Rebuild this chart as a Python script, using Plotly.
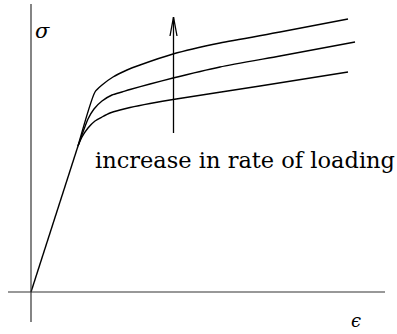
import plotly.graph_objects as go

# Stress-strain curves (arbitrary units): shared elastic segment, then three
# plastic branches for increasing rates of loading.
elastic_strain = [0.0, 4.7]
elastic_stress = [0.0, 14.6]

low_rate_strain = [4.7, 5.1, 5.7, 6.4, 7.1, 7.9, 8.9, 9.9, 11.9, 14.2, 22.9, 31.7]
low_rate_stress = [14.6, 15.5, 16.4, 17.1, 17.5, 17.9, 18.2, 18.45, 18.85, 19.25, 20.6, 22.0]

mid_rate_strain = [4.7, 5.2, 5.7, 6.3, 7.1, 8.1, 9.1, 9.9, 11.9, 14.2, 18.9, 24.9, 32.4]
mid_rate_stress = [14.6, 16.0, 17.3, 18.3, 19.1, 19.7, 20.0, 20.25, 20.8, 21.4, 22.5, 23.6, 25.0]

high_rate_strain = [4.7, 6.4, 7.1, 8.2, 9.6, 10.9, 14.2, 18.9, 24.9, 31.7]
high_rate_stress = [14.6, 20.0, 20.7, 21.5, 22.2, 22.7, 23.8, 24.9, 26.0, 27.3]

# Extent of the drawn coordinate axes
strain_axis_extent = [-2.3, 35.4]
stress_axis_extent = [-3.0, 28.8]

# Rate arrow: x position, tail and tip heights
arrow_x = 14.25
arrow_tail, arrow_tip = 15.9, 27.5

LINE = dict(color="black", width=1.4)

fig = go.Figure()
fig.add_trace(go.Scatter(x=elastic_strain, y=elastic_stress, mode="lines", line=LINE))
for xs, ys in [(low_rate_strain, low_rate_stress),
               (mid_rate_strain, mid_rate_stress),
               (high_rate_strain, high_rate_stress)]:
    fig.add_trace(go.Scatter(x=xs, y=ys, mode="lines",
                             line=dict(LINE, shape="spline", smoothing=0.6)))

# Coordinate axes drawn through the origin
AXIS = dict(color="#333333", width=1.2)
fig.add_shape(type="line", x0=strain_axis_extent[0], x1=strain_axis_extent[1],
              y0=0, y1=0, line=AXIS)
fig.add_shape(type="line", x0=0, x1=0,
              y0=stress_axis_extent[0], y1=stress_axis_extent[1], line=AXIS)

# Arrow indicating increasing loading rate (shaft plus open head)
ARROW = dict(color="black", width=1.3)
fig.add_shape(type="line", x0=arrow_x, x1=arrow_x, y0=arrow_tail, y1=arrow_tip, line=ARROW)
fig.add_shape(type="path", line=ARROW,
              path=f"M {arrow_x - 0.35},{arrow_tip - 1.9} L {arrow_x},{arrow_tip} "
                   f"L {arrow_x + 0.35},{arrow_tip - 1.9}")

SERIF = "DejaVu Serif"
fig.add_annotation(x=6.2, y=13.2, xref="x", yref="y", text="increase in rate of loading",
                   showarrow=False, xanchor="left", yanchor="middle",
                   font=dict(family=SERIF, size=22.5, color="black"))
fig.add_annotation(x=1.1, y=26.1, xref="x", yref="y", text="<i>σ</i>",
                   showarrow=False, font=dict(family=SERIF, size=21, color="black"))
fig.add_annotation(x=32.5, y=-4.1, xref="x", yref="y", text="<i>ϵ</i>",
                   showarrow=False, yanchor="bottom",
                   font=dict(family=SERIF, size=18, color="black"))

fig.update_layout(
    width=397, height=334, autosize=False,
    margin=dict(l=0, r=0, t=0, b=0),
    paper_bgcolor="white", plot_bgcolor="white",
    showlegend=False,
    xaxis=dict(range=[-3.1, 36.6], visible=False),
    yaxis=dict(range=[-4.2, 29.2], visible=False),
)

fig.write_html("out.html")
